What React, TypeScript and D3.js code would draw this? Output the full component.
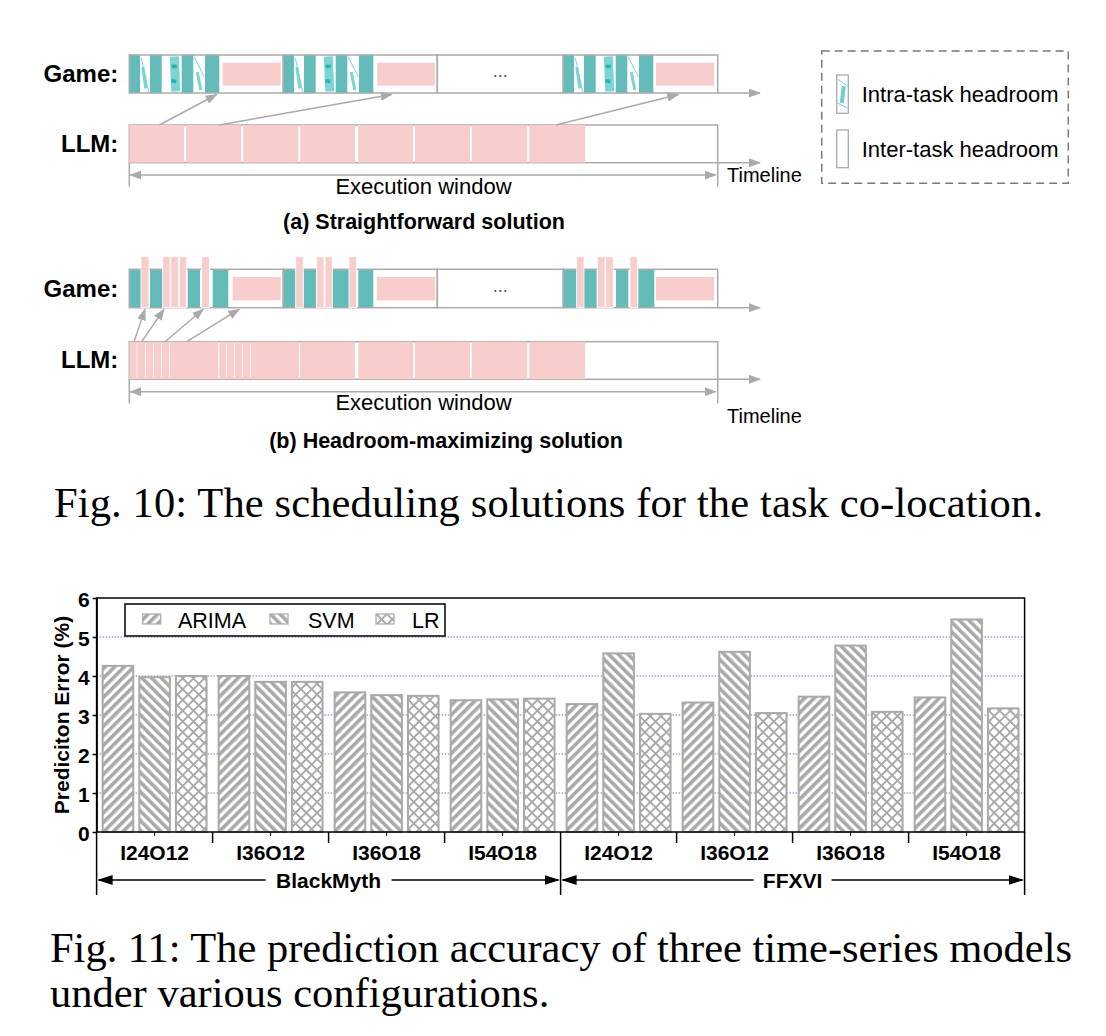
import { axisLeft, scaleBand, scaleLinear, select } from "d3";
import { useEffect, useRef } from "react";

const SANS = '"Liberation Sans", Arial, Helvetica, sans-serif';
const SERIF = '"Liberation Serif", "Times New Roman", serif';

const TEAL = "#64bcba";
const FRAG = "#6fd0d0";
const FRAG_DARK = "#22b3b6";
const PINK = "#f8cecc";
const LINE_GRAY = "#aaaaaa";
const BAR_GRAY = "#a9a9a9";

// ---------- Fig. 10: timeline data (units measured from the start of the execution window) ----------
const WINDOW_END = 588.4;
const TIMELINE_END = 630.7;
const FRAME_EDGES = [0, 154, 308, 434, WINDOW_END];
const DOTS_CELL = [308, 434];

// (a) straightforward
const BLOCK_STARTS_A = [0, 154, 434];
const STRIPES_A = [
  [0, 10.7],
  [20.7, 32.4],
  [52.4, 64],
  [75.7, 90],
];
// thin / thick shards inside the white gaps of a game frame: [x1, f1, x2, f2, width]
const SHARDS_A = [
  [12, 0.08, 19.5, 0.98, 1, 0],
  [13.5, 0.32, 16.5, 0.88, 3, 0],
  [45, 0.04, 46.5, 0.96, 9, 0],
  [42.5, 0.3, 47.5, 0.3, 3.5, 1],
  [42, 0.68, 47, 0.7, 3.5, 1],
  [65, 0.05, 75, 0.58, 1, 0],
  [68, 0.45, 71.5, 0.92, 3, 0],
];
const GAP_PINK_A = [
  [93.4, 151.4],
  [248, 305.7],
  [526.7, 584.7],
];
const LLM_A = [
  [0, 54.7],
  [56.7, 111.7],
  [114, 169],
  [171, 225.7],
  [228.7, 283.7],
  [285.7, 340.7],
  [342.4, 398],
  [400, 455.7],
];
const ARROWS_A = [
  [30, 87.4],
  [90, 262.4],
  [426.7, 549],
];

// (b) headroom-maximizing
const TEAL_B = [
  [0, 11.7],
  [20.7, 33.4],
  [58.4, 70.7],
  [83.4, 99],
  [154, 166.4],
  [174, 186.7],
  [203, 219.7],
  [229, 244],
  [434, 447.4],
  [454.7, 467.4],
  [486.7, 499],
  [509, 525],
];
const TALL_PINK_B = [
  [11.7, 19.7],
  [33.4, 40.7],
  [41.4, 49],
  [50, 57.4],
  [72.4, 80],
  [166.4, 174],
  [187.4, 194.7],
  [195.7, 203],
  [219.7, 227.4],
  [447.4, 454.7],
  [468, 475.7],
  [476.4, 484],
  [500.7, 508.4],
];
const GAP_PINK_B = [
  [103.4, 151.4],
  [247.4, 305.7],
  [526.7, 584.7],
];
const LLM_B = [
  [0, 7.4],
  [8, 15.7],
  [16.4, 24],
  [24.7, 31.7],
  [32.4, 40],
  [40.7, 89],
  [90, 96.7],
  [97.4, 104.7],
  [105.7, 112.7],
  [113.4, 120.7],
  [121.4, 169.7],
  [170.7, 225.7],
  [229, 284],
  [285.7, 340.7],
  [342.4, 398],
  [400, 455.7],
];
const ARROWS_B = [
  [4.7, 15.7],
  [12.4, 34.7],
  [35.7, 74],
  [57.4, 110],
];

// ---------- Fig. 11: prediction error (%) ----------
const GAMES = ["BlackMyth", "FFXVI"];
const CONFIGS = ["I24O12", "I36O12", "I36O18", "I54O18"];
const MODELS = ["ARIMA", "SVM", "LR"];
const ARIMA_ERR = [4.26, 4.0, 3.58, 3.38, 3.28, 3.32, 3.47, 3.45];
const SVM_ERR = [3.97, 3.85, 3.51, 3.4, 4.58, 4.62, 4.78, 5.45];
const LR_ERR = [4.0, 3.85, 3.49, 3.42, 3.03, 3.05, 3.08, 3.17];
const Y_TICKS = [0, 1, 2, 3, 4, 5, 6];
const GRID_TICKS = [1, 2, 3, 4, 5];

const SERIES: Record<string, number[]> = { ARIMA: ARIMA_ERR, SVM: SVM_ERR, LR: LR_ERR };
const PATTERN: Record<string, string> = { ARIMA: "url(#hatch-fwd)", SVM: "url(#hatch-back)", LR: "url(#hatch-cross)" };

const tx = scaleLinear().domain([0, WINDOW_END]).range([129.3, 717.7]);

const groupKeys = GAMES.flatMap((g) => CONFIGS.map((c) => `${g}|${c}`));
const xGroup = scaleBand<string>().domain(groupKeys).range([96.6, 1024.6]).padding(0);
const xModel = scaleBand<string>().domain(MODELS).range([0, xGroup.bandwidth()]).padding(0.165);
const yErr = scaleLinear().domain([0, 6]).range([832, 598]);
const PLOT = { left: 96.6, right: 1024.6, top: yErr(6), bottom: yErr(0) };

type Row = {
  gameTop: number;
  gameBot: number;
  llmTop: number;
  llmBot: number;
  span: number;
  tickBot: number;
  execBase: number;
  timelineBase: number;
  caption: number;
  gameLabel: number;
  llmLabel: number;
};

const ROW_A: Row = {
  gameTop: 55,
  gameBot: 93,
  llmTop: 125,
  llmBot: 162.7,
  span: 175,
  tickBot: 186.7,
  execBase: 194,
  timelineBase: 181.7,
  caption: 229,
  gameLabel: 81.7,
  llmLabel: 151.7,
};
const ROW_B: Row = {
  gameTop: 269.3,
  gameBot: 307.7,
  llmTop: 341.7,
  llmBot: 379.3,
  span: 391.7,
  tickBot: 403.3,
  execBase: 410,
  timelineBase: 423,
  caption: 448,
  gameLabel: 296.7,
  llmLabel: 368.3,
};

function Timeline({
  row,
  tealRanges,
  gapPink,
  llm,
  arrows,
  tallPink,
  shards,
  caption,
  captionX,
}: {
  row: Row;
  tealRanges: number[][];
  gapPink: number[][];
  llm: number[][];
  arrows: number[][];
  tallPink?: number[][];
  shards?: boolean;
  caption: string;
  captionX: number;
}) {
  const gh = row.gameBot - row.gameTop;
  const x0 = tx(0);
  const x1 = tx(WINDOW_END);
  return (
    <g>
      <text x={118.3} y={row.gameLabel} textAnchor="end" fontFamily={SANS} fontWeight="bold" fontSize={24}>
        Game:
      </text>
      <text x={118.3} y={row.llmLabel} textAnchor="end" fontFamily={SANS} fontWeight="bold" fontSize={24}>
        LLM:
      </text>

      {/* game row */}
      <rect x={x0} y={row.gameTop} width={x1 - x0} height={gh} fill="#fff" />
      {tealRanges.map(([a, b], i) => (
        <rect key={`t${i}`} x={tx(a)} y={row.gameTop} width={tx(b) - tx(a)} height={gh} fill={TEAL} />
      ))}
      {shards &&
        BLOCK_STARTS_A.map((s, bi) =>
          SHARDS_A.map(([a, fa, b, fb, w, dark], i) => (
            <line
              key={`s${bi}-${i}`}
              x1={tx(s + a)}
              y1={row.gameTop + fa * gh}
              x2={tx(s + b)}
              y2={row.gameTop + fb * gh}
              stroke={dark ? FRAG_DARK : FRAG}
              strokeWidth={w}
              opacity={dark ? 1 : 0.9}
            />
          ))
        )}
      {gapPink.map(([a, b], i) => (
        <rect key={`g${i}`} x={tx(a)} y={row.gameTop + 7.7} width={tx(b) - tx(a)} height={gh - 15} fill={PINK} />
      ))}
      {FRAME_EDGES.slice(0, -1).map((e, i) => (
        <rect
          key={`f${i}`}
          x={tx(e)}
          y={row.gameTop}
          width={tx(FRAME_EDGES[i + 1]) - tx(e)}
          height={gh}
          fill="none"
          stroke={LINE_GRAY}
          strokeWidth={1.5}
        />
      ))}
      {tallPink?.map(([a, b], i) => (
        <rect
          key={`p${i}`}
          x={tx(a)}
          y={row.gameTop - 12.6}
          width={tx(b) - tx(a)}
          height={row.gameBot - row.gameTop + 12.6}
          fill={PINK}
          stroke="#fff"
          strokeWidth={0.8}
        />
      ))}
      <text
        x={tx((DOTS_CELL[0] + DOTS_CELL[1]) / 2)}
        y={row.gameTop + gh / 2 + 3}
        textAnchor="middle"
        fontFamily={SANS}
        fontSize={18}
        fill="#4a5878"
      >
        ...
      </text>
      <line
        x1={x1}
        y1={row.gameBot}
        x2={tx(TIMELINE_END)}
        y2={row.gameBot}
        stroke={LINE_GRAY}
        strokeWidth={1.5}
        markerEnd="url(#arrow-gray)"
      />

      {/* LLM row */}
      <rect
        x={x0}
        y={row.llmTop}
        width={x1 - x0}
        height={row.llmBot - row.llmTop}
        fill="#fff"
        stroke={LINE_GRAY}
        strokeWidth={1.5}
      />
      {llm.map(([a, b], i) => (
        <rect
          key={`l${i}`}
          x={tx(a)}
          y={row.llmTop}
          width={tx(b) - tx(a)}
          height={row.llmBot - row.llmTop}
          fill={PINK}
        />
      ))}
      <line
        x1={x1}
        y1={row.llmBot}
        x2={tx(TIMELINE_END)}
        y2={row.llmBot}
        stroke={LINE_GRAY}
        strokeWidth={1.5}
        markerEnd="url(#arrow-gray)"
      />

      {/* LLM -> game arrows */}
      {arrows.map(([a, b], i) => (
        <line
          key={`a${i}`}
          x1={tx(a)}
          y1={row.llmTop}
          x2={tx(b)}
          y2={row.gameBot + 1.5}
          stroke={LINE_GRAY}
          strokeWidth={1.5}
          markerEnd="url(#arrow-gray)"
        />
      ))}

      {/* execution window */}
      <line x1={x0} y1={row.llmBot} x2={x0} y2={row.tickBot} stroke={LINE_GRAY} strokeWidth={1.5} />
      <line x1={x1} y1={row.llmBot} x2={x1} y2={row.tickBot} stroke={LINE_GRAY} strokeWidth={1.5} />
      <line
        x1={x0 + 1}
        y1={row.span}
        x2={x1 - 2}
        y2={row.span}
        stroke={LINE_GRAY}
        strokeWidth={1.5}
        markerStart="url(#arrow-gray-s)"
        markerEnd="url(#arrow-gray)"
      />
      <text x={(x0 + x1) / 2} y={row.execBase} textAnchor="middle" fontFamily={SANS} fontSize={22}>
        Execution window
      </text>
      <text x={727} y={row.timelineBase} fontFamily={SANS} fontSize={20}>
        Timeline
      </text>
      <text x={captionX} y={row.caption} textAnchor="middle" fontFamily={SANS} fontWeight="bold" fontSize={21.5}>
        {caption}
      </text>
    </g>
  );
}

export default function App() {
  const yAxisRef = useRef<SVGGElement | null>(null);

  useEffect(() => {
    if (!yAxisRef.current) return;
    const g = select(yAxisRef.current);
    g.selectAll("*").remove();
    g.call(
      axisLeft(yErr)
        .tickValues(Y_TICKS)
        .tickSize(4)
        .tickSizeOuter(0)
        .tickPadding(3)
        .tickFormat((d) => String(d))
    );
    g.attr("font-family", SANS).attr("font-size", 21).attr("font-weight", "bold");
    g.select(".domain").attr("stroke", "#000").attr("stroke-width", 1.5);
    g.selectAll(".tick line").attr("stroke", "#000").attr("stroke-width", 1.5);
    g.selectAll(".tick text").attr("fill", "#000").attr("dy", "0.4em");
  }, []);

  const legendItems = [
    { key: "ARIMA", sx: 142.7, tx: 178 },
    { key: "SVM", sx: 270, tx: 308 },
    { key: "LR", sx: 376, tx: 412 },
  ];

  return (
    <svg
      width={1106}
      height={1036}
      style={{ position: "absolute", left: 0, top: 0, background: "#fff" }}
      xmlns="http://www.w3.org/2000/svg"
    >
      <defs>
        <marker
          id="arrow-gray"
          viewBox="0 0 12 9"
          refX={11}
          refY={4.5}
          markerWidth={12}
          markerHeight={9}
          markerUnits="userSpaceOnUse"
          orient="auto"
        >
          <path d="M0,0 L12,4.5 L0,9 Z" fill={LINE_GRAY} />
        </marker>
        <marker
          id="arrow-gray-s"
          viewBox="0 0 12 9"
          refX={11}
          refY={4.5}
          markerWidth={12}
          markerHeight={9}
          markerUnits="userSpaceOnUse"
          orient="auto-start-reverse"
        >
          <path d="M0,0 L12,4.5 L0,9 Z" fill={LINE_GRAY} />
        </marker>
        <marker
          id="arrow-black"
          viewBox="0 0 15 10"
          refX={14}
          refY={5}
          markerWidth={15}
          markerHeight={10}
          markerUnits="userSpaceOnUse"
          orient="auto-start-reverse"
        >
          <path d="M0,0 L15,5 L0,10 Z" fill="#000" />
        </marker>
        <pattern id="hatch-fwd" patternUnits="userSpaceOnUse" width={6.8} height={6.8} patternTransform="rotate(45)">
          <rect width={6.8} height={6.8} fill="#fff" />
          <rect width={3.6} height={6.8} fill={BAR_GRAY} />
        </pattern>
        <pattern id="hatch-back" patternUnits="userSpaceOnUse" width={6.8} height={6.8} patternTransform="rotate(-45)">
          <rect width={6.8} height={6.8} fill="#fff" />
          <rect width={3.6} height={6.8} fill={BAR_GRAY} />
        </pattern>
        <pattern id="hatch-cross" patternUnits="userSpaceOnUse" width={7.6} height={7.6} patternTransform="rotate(45)">
          <rect width={7.6} height={7.6} fill="#fff" />
          <rect width={1.9} height={7.6} fill={BAR_GRAY} />
          <rect width={7.6} height={1.9} fill={BAR_GRAY} />
        </pattern>
      </defs>

      {/* ================= Fig. 10 ================= */}
      <Timeline
        row={ROW_A}
        tealRanges={BLOCK_STARTS_A.flatMap((s) => STRIPES_A.map(([a, b]) => [s + a, s + b]))}
        gapPink={GAP_PINK_A}
        llm={LLM_A}
        arrows={ARROWS_A}
        shards
        caption="(a) Straightforward solution"
        captionX={424}
      />
      <Timeline
        row={ROW_B}
        tealRanges={TEAL_B}
        gapPink={GAP_PINK_B}
        llm={LLM_B}
        arrows={ARROWS_B}
        tallPink={TALL_PINK_B}
        caption="(b) Headroom-maximizing solution"
        captionX={446}
      />

      {/* legend */}
      <rect
        x={821.7}
        y={51}
        width={246.6}
        height={132.3}
        fill="none"
        stroke="#7a7a7a"
        strokeWidth={1.5}
        strokeDasharray="8 5"
      />
      <rect x={836.7} y={75} width={11.6} height={38.3} fill="#fff" stroke={LINE_GRAY} strokeWidth={1.3} />
      <line x1={837.5} y1={79} x2={847.5} y2={86} stroke={FRAG} strokeWidth={1} />
      <line x1={843.8} y1={86} x2={841.8} y2={103} stroke={FRAG} strokeWidth={4} />
      <line x1={837.5} y1={103} x2={847.5} y2={108} stroke={FRAG} strokeWidth={1} />
      <text x={861.7} y={101.7} fontFamily={SANS} fontSize={22}>
        Intra-task headroom
      </text>
      <rect x={836.7} y={130} width={11.6} height={37.7} fill="#fff" stroke={LINE_GRAY} strokeWidth={1.3} />
      <text x={861.7} y={156.7} fontFamily={SANS} fontSize={22}>
        Inter-task headroom
      </text>

      <text x={54} y={516.7} fontFamily={SERIF} fontSize={42.5} textLength={989} lengthAdjust="spacing">
        Fig. 10: The scheduling solutions for the task co-location.
      </text>

      {/* ================= Fig. 11 ================= */}
      {GRID_TICKS.map((t) => (
        <line
          key={`grid${t}`}
          x1={PLOT.left}
          x2={PLOT.right}
          y1={yErr(t)}
          y2={yErr(t)}
          stroke="#6f6fd6"
          strokeWidth={1}
          strokeDasharray="1.5 1.5"
        />
      ))}

      {groupKeys.map((key, gi) =>
        MODELS.map((m) => {
          const v = SERIES[m][gi];
          const bx = (xGroup(key) ?? 0) + (xModel(m) ?? 0);
          return (
            <rect
              key={`${key}-${m}`}
              x={bx}
              y={yErr(v)}
              width={xModel.bandwidth()}
              height={yErr(0) - yErr(v)}
              fill={PATTERN[m]}
              stroke={BAR_GRAY}
              strokeWidth={2}
            />
          );
        })
      )}

      {/* legend */}
      <rect x={125} y={604} width={320} height={32} fill="#fff" stroke="#000" strokeWidth={1.5} />
      {legendItems.map((it) => (
        <g key={it.key}>
          <rect x={it.sx} y={614} width={18} height={10} fill={PATTERN[it.key]} stroke={BAR_GRAY} strokeWidth={1.2} />
          <text x={it.tx} y={628.3} fontFamily={SANS} fontSize={21.5}>
            {it.key}
          </text>
        </g>
      ))}

      {/* frame */}
      <rect
        x={PLOT.left}
        y={PLOT.top}
        width={PLOT.right - PLOT.left}
        height={PLOT.bottom - PLOT.top}
        fill="none"
        stroke="#000"
        strokeWidth={1.5}
      />
      <g ref={yAxisRef} transform={`translate(${PLOT.left},0)`} />

      <text
        transform={`translate(69,${(PLOT.top + PLOT.bottom) / 2}) rotate(-90)`}
        textAnchor="middle"
        fontFamily={SANS}
        fontWeight="bold"
        fontSize={21}
      >
        Prediciton Error (%)
      </text>

      {/* x axis: config labels, separators, game spans */}
      {groupKeys.map((key, gi) => {
        const gx = xGroup(key) ?? 0;
        const cx = gx + xGroup.bandwidth() / 2;
        const isGameStart = gi % CONFIGS.length === 0;
        return (
          <g key={`xl-${key}`}>
            <line
              x1={gx}
              x2={gx}
              y1={PLOT.bottom}
              y2={isGameStart ? 895 : 843}
              stroke="#000"
              strokeWidth={1.5}
            />
            <line x1={cx} x2={cx} y1={PLOT.bottom} y2={PLOT.bottom + 4} stroke="#000" strokeWidth={1} />
            <text x={cx} y={860} textAnchor="middle" fontFamily={SANS} fontWeight="bold" fontSize={21}>
              {key.split("|")[1]}
            </text>
          </g>
        );
      })}
      <line x1={PLOT.right} x2={PLOT.right} y1={PLOT.bottom} y2={895} stroke="#000" strokeWidth={1.5} />
      {GAMES.map((g) => {
        const first = xGroup(`${g}|${CONFIGS[0]}`) ?? 0;
        const last = (xGroup(`${g}|${CONFIGS[CONFIGS.length - 1]}`) ?? 0) + xGroup.bandwidth();
        const mid = (first + last) / 2;
        const half = g.length * 6 + 9;
        return (
          <g key={`span-${g}`}>
            <line
              x1={mid - half}
              x2={first + 2}
              y1={880}
              y2={880}
              stroke="#000"
              strokeWidth={1.3}
              markerEnd="url(#arrow-black)"
            />
            <line
              x1={mid + half}
              x2={last - 2}
              y1={880}
              y2={880}
              stroke="#000"
              strokeWidth={1.3}
              markerEnd="url(#arrow-black)"
            />
            <text x={mid} y={888.3} textAnchor="middle" fontFamily={SANS} fontWeight="bold" fontSize={21}>
              {g}
            </text>
          </g>
        );
      })}

      <text x={50} y={961.7} fontFamily={SERIF} fontSize={42.5} textLength={1022} lengthAdjust="spacing">
        Fig. 11: The prediction accuracy of three time-series models
      </text>
      <text x={50} y={1006.7} fontFamily={SERIF} fontSize={42.5}>
        under various configurations.
      </text>
    </svg>
  );
}
